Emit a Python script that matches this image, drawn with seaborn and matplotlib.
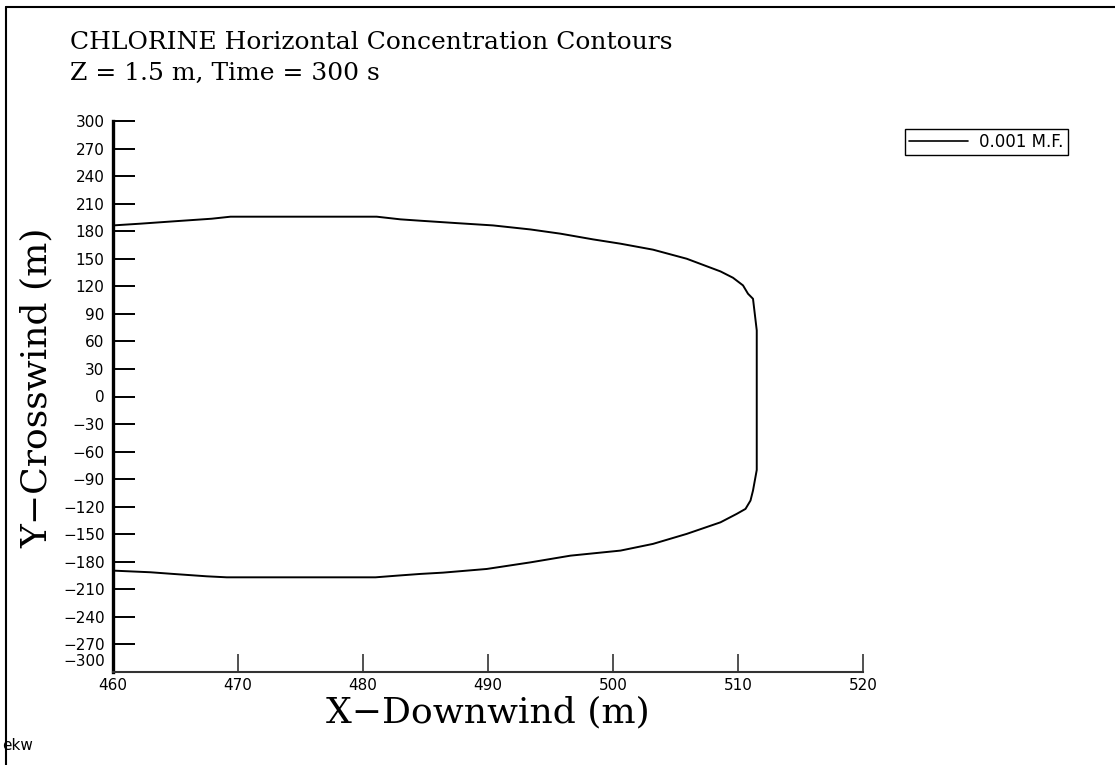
import matplotlib
matplotlib.use("Agg")
import matplotlib.pyplot as plt
import matplotlib.transforms as mtransforms
from matplotlib.lines import Line2D
import numpy as np
import pandas as pd
import seaborn as sns

# ---- data ----
upper_x = [460.0, 462.2, 464.8, 467.9, 469.4, 481.1, 483.0, 484.6, 487.5, 490.4,
           493.4, 495.8, 498.4, 500.6, 503.2, 505.9, 508.6, 509.6, 510.4, 510.8,
           511.2, 511.5]
upper_y = [186.3, 188.2, 190.7, 193.6, 195.8, 195.8, 192.9, 191.4, 188.8, 186.3,
           181.9, 177.3, 171.1, 166.4, 159.9, 150.0, 136.2, 129.3, 121.0, 111.9,
           106.4, 72.0]
lower_x = [511.5, 511.2, 511.0, 510.6, 509.9, 508.6, 505.9, 503.2, 500.6, 496.6,
           493.4, 489.9, 486.4, 484.6, 482.7, 481.0, 469.1, 467.5, 464.8, 463.0,
           460.0]
lower_y = [-80.0, -102.4, -113.3, -122.4, -127.8, -137.0, -149.6, -160.5, -167.8,
           -173.3, -180.6, -187.8, -191.8, -193.2, -195.1, -196.9, -196.9, -195.8,
           -193.2, -191.4, -189.6]
contour_label = "0.001 M.F."

x_ticks = [460, 470, 480, 490, 500, 510, 520]
y_ticks = list(range(-300, 301, 30))
x_limits = (460, 520)
y_limits = (-300, 300)

title_lines = ["CHLORINE Horizontal Concentration Contours",
               "Z = 1.5 m, Time = 300 s"]
x_label = "X\u2212Downwind (m)"
y_label = "Y\u2212Crosswind (m)"
corner_note = "ekw"

# ---- build table ----
df = pd.DataFrame({
    "x": upper_x + lower_x,
    "y": upper_y + lower_y,
    "level": [contour_label] * (len(upper_x) + len(lower_x)),
})

sns.set_style("ticks")
plt.rcParams["font.family"] = ["DejaVu Sans"]
plt.rcParams["text.color"] = "black"
plt.rcParams["axes.labelcolor"] = "black"

W, H = 1115, 765
fig = plt.figure(figsize=(W / 100, H / 100), dpi=100)
ax = fig.add_axes([113 / W, 1 - 672 / H, 750 / W, 551 / H])

sns.lineplot(data=df, x="x", y="y", hue="level", palette=["black"],
             sort=False, estimator=None, linewidth=1.4, ax=ax)

ax.set_xlim(*x_limits)
ax.set_ylim(*y_limits)
ax.set_xticks(x_ticks)
ax.set_yticks(y_ticks)
ax.set_xticklabels([str(v) for v in x_ticks])
ax.set_yticklabels([str(v).replace("-", "\u2212") for v in y_ticks])

for s in ["top", "right"]:
    ax.spines[s].set_visible(False)
ax.spines["left"].set_linewidth(2.4)
ax.spines["left"].set_color("black")
ax.spines["bottom"].set_linewidth(1.5)
ax.spines["bottom"].set_color("#333333")

ax.tick_params(axis="y", direction="in", length=16, width=1.4, color="black",
               pad=6, labelsize=11, labelcolor="black")
ax.tick_params(axis="x", direction="in", length=13, width=1.2, color="#333333",
               pad=4, labelsize=11, labelcolor="black")

# raise the -300 label so it does not collide with the x labels
for lab in ax.get_yticklabels():
    if lab.get_text() == "\u2212300":
        off = mtransforms.ScaledTranslation(0, 12 / 100, fig.dpi_scale_trans)
        lab.set_transform(lab.get_transform() + off)

ax.set_xlabel(x_label, family="DejaVu Serif", fontsize=26, color="black")
ax.set_ylabel(y_label, family="DejaVu Serif", fontsize=26, color="black")
ax.xaxis.set_label_coords((488 - 113) / 750, -(722 - 672) / 551)
ax.xaxis.label.set_va("baseline")
ax.yaxis.set_label_coords(-(113 - 37) / 750, (672 - 388) / 551)
ax.yaxis.label.set_va("center")

leg = ax.legend(loc="upper left", bbox_to_anchor=(905 / W, 1 - 129 / H),
                bbox_transform=fig.transFigure, borderaxespad=0,
                fancybox=False, edgecolor="black", framealpha=1,
                fontsize=12, handlelength=3.5, handletextpad=0.7,
                borderpad=0.25, title=None)
leg.get_frame().set_linewidth(1.0)
for t in leg.get_texts():
    t.set_color("black")
for h in leg.get_lines():
    h.set_linewidth(1.2)

fig.text(70 / W, 1 - 49 / H, title_lines[0], family="DejaVu Serif",
         fontsize=18, va="baseline", ha="left", color="black")
fig.text(70 / W, 1 - 80 / H, title_lines[1], family="DejaVu Serif",
         fontsize=18, va="baseline", ha="left", color="black")
fig.text(2 / W, 1 - 750 / H, corner_note, fontsize=11, va="baseline", ha="left",
         color="black")

# figure border (top and left visible in reference)
fig.add_artist(Line2D([6 / W, 6 / W], [0, 1 - 7 / H], color="black", lw=1.5,
                      transform=fig.transFigure))
fig.add_artist(Line2D([6 / W, 1], [1 - 7 / H, 1 - 7 / H], color="black", lw=1.5,
                      transform=fig.transFigure))

fig.savefig("out.png", dpi=100, facecolor="white")
